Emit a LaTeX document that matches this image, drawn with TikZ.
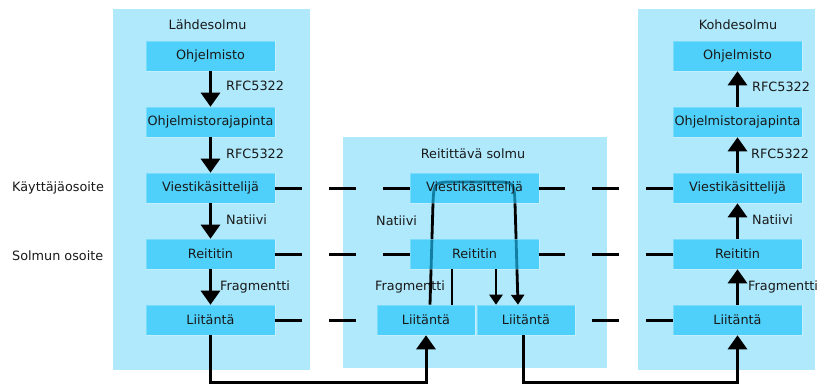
\documentclass[tikz,border=0pt]{standalone}
\usepackage{fontspec}
\setmainfont{DejaVu Sans}
\usetikzlibrary{arrows.meta,calc}
\pgfdeclarelayer{panels}
\pgfdeclarelayer{under}
\pgfsetlayers{panels,under,main}
\definecolor{panelcol}{RGB}{176,233,252}
\definecolor{boxcol}{RGB}{28,195,249}
\definecolor{txt}{RGB}{25,25,25}
\tikzset{
  box/.style={rectangle, fill=boxcol, fill opacity=0.65, text opacity=1, text=txt,
    draw=white, draw opacity=0.25, line width=0.6pt,
    minimum width=129pt, minimum height=30pt, inner sep=0pt, font=\fontsize{12.8}{15}\selectfont},
  sbox/.style={box, minimum width=98pt},
  lbl/.style={text=txt, inner sep=0pt, font=\fontsize{12.8}{15}\selectfont},
  bigarr/.style={line width=3pt, -{Triangle[width=19pt,length=14pt]}},
  smallarr/.style={line width=2.8pt, -{Triangle[width=13pt,length=10pt]}},
  plain/.style={line width=2.8pt},
  dline/.style={line width=3pt, dash pattern=on 27pt off 27pt},
  panel/.style={fill=panelcol, draw=none}
}
\begin{document}
\begin{tikzpicture}[x=1pt,y=-1pt]
\useasboundingbox (0,0) rectangle (826,385);
\begin{pgfonlayer}{panels}
\fill[white] (0,0) rectangle (826,385);
\fill[panel] (113,9) rectangle (310,370);
\fill[panel] (343,137) rectangle (607,368);
\fill[panel] (638,9) rectangle (815,370);
\end{pgfonlayer}
% titles
\node[lbl] (t1) at (207.5,25) {Lähdesolmu};
\node[lbl] (t2) at (473,154) {Reitittävä solmu};
\node[lbl] (t3) at (738,25) {Kohdesolmu};
% left column
\node[box] (L1) at (210.5,56) {Ohjelmisto};
\node[box] (L2) at (210.5,122) {Ohjelmistorajapinta};
\node[box] (L3) at (210.5,188) {Viestikäsittelijä};
\node[box] (L4) at (210.5,254) {Reititin};
\node[box] (L5) at (210.5,320) {Liitäntä};
% right column
\node[box] (R1) at (737.5,56) {Ohjelmisto};
\node[box] (R2) at (737.5,122) {Ohjelmistorajapinta};
\node[box] (R3) at (737.5,188) {Viestikäsittelijä};
\node[box] (R4) at (737.5,254) {Reititin};
\node[box] (R5) at (737.5,320) {Liitäntä};
% middle
\node[box] (mV) at (474.5,188) {Viestikäsittelijä};
\node[box] (mR) at (474.5,254) {Reititin};
\node[sbox] (mL) at (426,320) {Liitäntä};
\node[sbox] (mL2) at (526,320) {Liitäntä};
% side labels
\node[lbl, anchor=west] (a1) at (12,188) {Käyttäjäosoite};
\node[lbl, anchor=west] (a2) at (12,256) {Solmun osoite};
% arrow labels
\node[lbl, anchor=west] (l1) at (226,86) {RFC5322};
\node[lbl, anchor=west] (l2) at (226,154) {RFC5322};
\node[lbl, anchor=west] (l3) at (226,220) {Natiivi};
\node[lbl, anchor=west] (l4) at (220,287) {Fragmentti};
\node[lbl, anchor=west] (r1) at (752,87) {RFC5322};
\node[lbl, anchor=west] (r2) at (751,154) {RFC5322};
\node[lbl, anchor=west] (r3) at (752,220) {Natiivi};
\node[lbl, anchor=west] (r4) at (748,287) {Fragmentti};
\node[lbl, anchor=west] (m1) at (376,221) {Natiivi};
\node[lbl, anchor=west] (m2) at (375,287) {Fragmentti};
% left arrows
\draw[bigarr] (L1) -- (L2);
\draw[bigarr] (L2) -- (L3);
\draw[bigarr] (L3) -- (L4);
\draw[bigarr] (L4) -- (L5);
% right arrows
\draw[bigarr] (R5) -- (R4);
\draw[bigarr] (R4) -- (R3);
\draw[bigarr] (R3) -- (R2);
\draw[bigarr] (R2) -- (R1);
% dashed links
\draw[dline] (L3.east) -- (mV.west);
\draw[dline] (R3.west) -- (mV.east);
\draw[dline] (L4.east) -- (mR.west);
\draw[dline] (R4.west) -- (mR.east);
\draw[dline] (L5.east) -- (mL.west);
\draw[dline] (R5.west) -- (mL2.east);
% bottom links
\coordinate (b) at (0,382);
\draw[bigarr] (L5.south) -- (L5.south |- b) -| (mL.south);
\draw[bigarr] ([xshift=-3pt]mL2.south) -- ([xshift=-3pt]mL2.south |- b) -| (R5.south);
% middle internal
\begin{pgfonlayer}{under}
\draw[smallarr] ([xshift=4pt]mL.north) -- (433,203) .. controls (434,182) .. (455,182) -- (495,182) .. controls (514,182) .. (515,203) -- ([xshift=-8pt]mL2.north);
\end{pgfonlayer}
\draw[plain] ([xshift=-22.5pt]mR.south) -- ([xshift=-22.5pt]mR.south |- mL.north);
\draw[smallarr] ([xshift=21.5pt]mR.south) -- ([xshift=21.5pt]mR.south |- mL2.north);
\end{tikzpicture}
\end{document}
